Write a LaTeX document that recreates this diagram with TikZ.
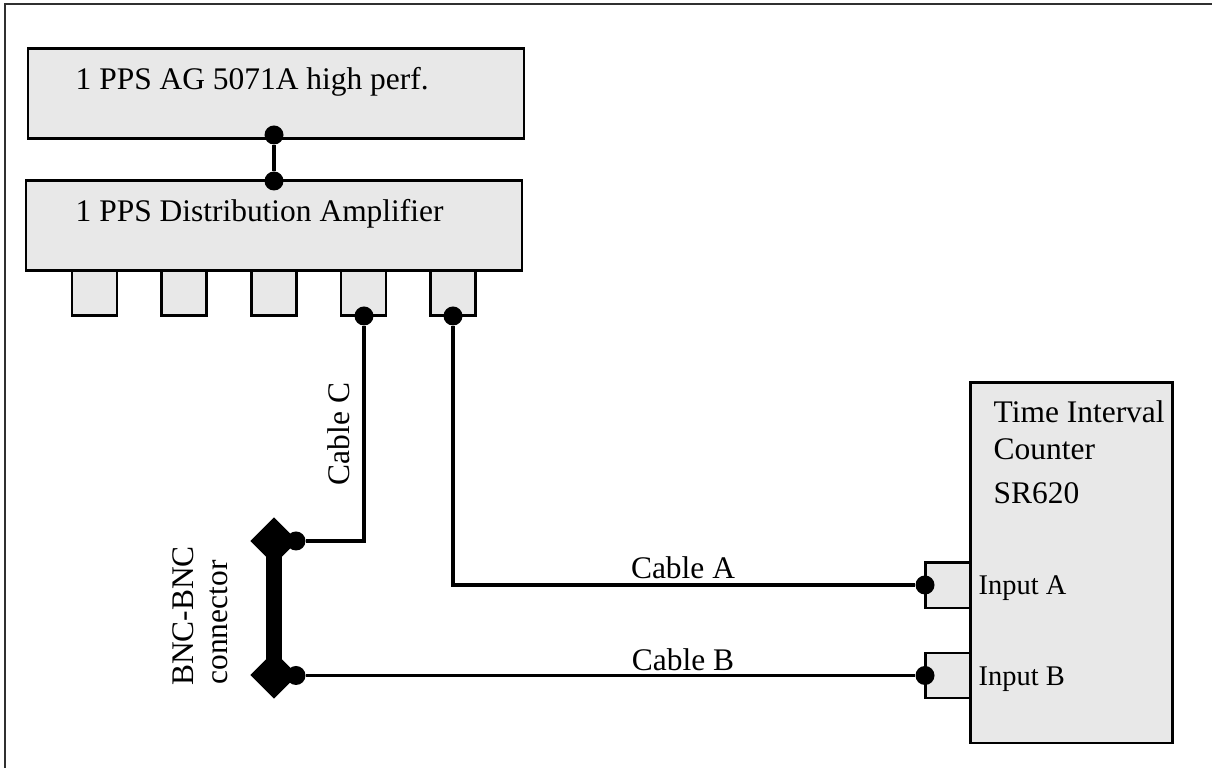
\documentclass[tikz,border=0pt]{standalone}
\usepackage{fontspec}
\setmainfont{Liberation Serif}
\usepackage{xcolor}
\usetikzlibrary{positioning,shapes.geometric}
\definecolor{ink}{HTML}{000000}
\definecolor{boxgray}{HTML}{E8E8E8}
\definecolor{framegray}{HTML}{303030}
\tikzset{
  unit/.style={draw=ink,fill=boxgray,line width=0.85pt,rectangle,inner sep=0pt},
  port/.style={unit,minimum width=0.45cm,minimum height=0.45cm},
  plug/.style={circle,fill=ink,draw=none,inner sep=0pt,minimum size=0.19cm},
  bnc/.style={diamond,fill=ink,draw=none,inner sep=0pt,minimum size=0.48cm},
  cable/.style={draw=ink,line width=0.95pt},
  label/.style={inner sep=0pt,font=\fontsize{8.95}{10}\selectfont,text=ink},
  smalllabel/.style={inner sep=0pt,font=\fontsize{8.1}{9}\selectfont,text=ink}
}
\begin{document}
\begin{tikzpicture}[x=1cm,y=1cm]
    \path[use as bounding box] (0,0) rectangle (12.12,7.68);
    \draw[draw=framegray,line width=0.55pt] (0.05,0) -- (0.05,7.64) -- (12.12,7.64);

    % top row
    \node[unit,minimum width=4.96cm,minimum height=0.90cm] (clock) at (2.76,6.74) {};
    \node[unit,minimum width=4.96cm,minimum height=0.90cm] (amp) at (2.74,5.42) {};
    \foreach \name/\xo in {pa/0.945,pb/1.84,pc/2.74,pd/3.635,pe/4.53}{
      \node[port] (\name) at (\xo,4.745) {};
    }
    \node[label,anchor=base west] (clocktxt) at (0.75,6.78) {1 PPS AG 5071A high perf.};
    \node[label,anchor=base west] (amptxt) at (0.75,5.46) {1 PPS Distribution Amplifier};

    % counter with its inputs
    \node[port] (ina) at (9.475,1.825) {};
    \node[port] (inb) at (9.475,0.925) {};
    \node[unit,minimum width=2.02cm,minimum height=3.60cm] (counter) at (10.71,2.05) {};
    \node[label,anchor=base west] (cnta) at (9.93,3.45) {Time Interval};
    \node[label,anchor=base west] (cntb) at (9.93,3.08) {Counter};
    \node[label,anchor=base west] (cntc) at (9.93,2.64) {SR620};
    \node[smalllabel,anchor=base west] (lina) at (9.78,1.73) {Input A};
    \node[smalllabel,anchor=base west] (linb) at (9.78,0.82) {Input B};

    % connector
    \node[bnc] (bnca) at (2.74,2.27) {};
    \node[bnc] (bncb) at (2.74,0.93) {};
    \draw[ink,line width=4.5pt] (bnca.center) -- (bncb.center);
    \node[label,rotate=90,anchor=base] (bnctxta) at (1.93,1.52) {BNC-BNC};
    \node[label,rotate=90,anchor=base] (bnctxtb) at (2.28,1.455) {connector};

    % plugs
    \node[plug] (clockout) at (2.74,6.33) {};
    \node[plug] (ampin) at (2.74,5.87) {};
    \node[plug] (outd) at (3.64,4.52) {};
    \node[plug] (oute) at (4.53,4.52) {};
    \node[plug] (bncpa) at (2.96,2.27) {};
    \node[plug] (bncpb) at (2.96,0.925) {};
    \node[plug] (plina) at (9.25,1.83) {};
    \node[plug] (plinb) at (9.25,0.925) {};

    % cables
    \draw[cable,line width=1.1pt] (clockout) -- (ampin);
    \draw[cable] (outd) |- (bncpa);
    \draw[cable] (oute) |- (plina);
    \draw[cable] (bncpb) -- (plinb);
    \node[label,rotate=90,anchor=base] (cablec) at (3.49,3.34) {Cable C};
    \node[label,anchor=base] (cablea) at (6.83,1.89) {Cable A};
    \node[label,anchor=base] (cableb) at (6.83,0.97) {Cable B};
  \end{tikzpicture}
\end{document}
